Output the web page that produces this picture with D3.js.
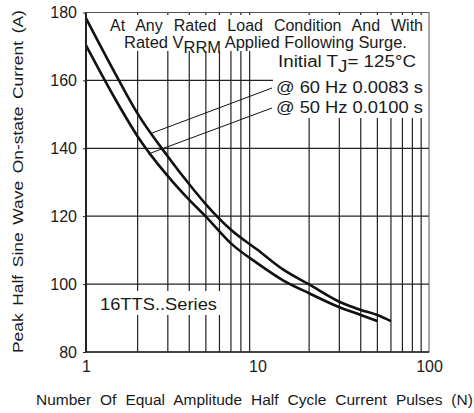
<!DOCTYPE html>
<html>
<head>
<meta charset="utf-8">
<script src="https://cdn.jsdelivr.net/npm/d3@7"></script>
<style>
  html, body { margin: 0; padding: 0; background: #fff; }
  svg { display: block; font-family: "Liberation Sans", Arial, sans-serif; }
</style>
</head>
<body>
<svg id="chart" width="474" height="413"></svg>
<script>
// Maximum non-repetitive surge current vs number of half-cycle pulses (16TTS..Series)
const pulses60 = [1, 1.5, 2, 3, 4, 5, 7, 10, 14, 20, 30, 40, 50, 60];
const surge60  = [178.3, 161.5, 150.2, 137.6, 129.4, 123.5, 116.0, 110.1, 104.4, 99.9, 94.8, 92.4, 90.9, 89.1];
const pulses50 = [1, 1.5, 2, 3, 4, 5, 7, 10, 14, 20, 30, 40, 50];
const surge50  = [170.3, 154.0, 143.5, 131.8, 124.8, 119.9, 112.0, 106.1, 101.2, 97.3, 93.2, 90.9, 89.1];

const xTicks = [1, 10, 100];
const xGrid = [2, 3, 4, 5, 6, 7, 8, 9, 20, 30, 40, 50, 60, 70, 80, 90];
const yTicks = [80, 100, 120, 140, 160, 180];
const yGrid = [100, 120, 140, 160];

const svg = d3.select("#chart");
const plotL = 86, plotR = 429, plotT = 12.5, plotB = 352;

const x = d3.scaleLog().domain([1, 100]).range([plotL, plotR]);
const y = d3.scaleLinear().domain([80, 180]).range([plotB, plotT]);

// grid
const grid = svg.append("g").attr("stroke", "#222").attr("stroke-width", 1.2);
grid.selectAll(".vg").data(xGrid).join("line")
  .attr("x1", d => x(d)).attr("x2", d => x(d))
  .attr("y1", plotT).attr("y2", plotB);
grid.selectAll(".hg").data(yGrid).join("line")
  .attr("x1", plotL).attr("x2", plotR)
  .attr("y1", d => y(d)).attr("y2", d => y(d));

// white panels behind annotation text
const bg = svg.append("g");
const txt = svg.append("g").attr("fill", "#1a1a1a");

function fitWords(sel, width) {
  const n = sel.text().split(" ").length - 1;
  const w = sel.node().getComputedTextLength();
  if (n > 0) sel.attr("word-spacing", (width - w) / n);
}
function stretch(sel, x0, width) {
  const w = sel.node().getBBox().width;
  sel.attr("transform", `translate(${x0},0) scale(${width / w},1) translate(${-x0},0)`);
}

const l1 = txt.append("text").attr("x", 110).attr("y", 31).attr("font-size", 16)
  .text("At Any Rated Load Condition And With");
fitWords(l1, 313);

const l2 = txt.append("text").attr("x", 124).attr("y", 48).attr("font-size", 16);
l2.append("tspan").text("Rated V");
l2.append("tspan").attr("dy", 5).text("RRM");
l2.append("tspan").attr("dy", -5).text(" Applied Following Surge.");
stretch(l2, 124, 283);

const l3 = txt.append("text").attr("x", 278).attr("y", 67).attr("font-size", 16);
l3.append("tspan").text("Initial T");
l3.append("tspan").attr("dy", 5).text("J");
l3.append("tspan").attr("dy", -5).text("= 125°C");
stretch(l3, 278, 138);

const l4 = txt.append("text").attr("x", 276).attr("y", 93).attr("font-size", 16)
  .text("@ 60 Hz 0.0083 s");
stretch(l4, 276, 147);
const l5 = txt.append("text").attr("x", 276).attr("y", 113).attr("font-size", 16)
  .text("@ 50 Hz 0.0100 s");
stretch(l5, 276, 147);

const series = txt.append("text").attr("x", 100).attr("y", 310).attr("font-size", 16)
  .text("16TTS..Series");
stretch(series, 100, 117);

bg.append("rect").attr("x", 104).attr("y", 15).attr("width", plotR - 104).attr("height", 36).attr("fill", "#fff");
bg.append("rect").attr("x", 273).attr("y", 51).attr("width", plotR - 273).attr("height", 67).attr("fill", "#fff");
bg.append("rect").attr("x", 97).attr("y", 291).attr("width", 123).attr("height", 24).attr("fill", "#fff");

// curves
const line = d3.line().x(d => x(d[0])).y(d => y(d[1])).curve(d3.curveMonotoneX);
const curves = svg.append("g").attr("fill", "none").attr("stroke", "#111")
  .attr("stroke-width", 2.6).attr("stroke-linejoin", "round");
curves.append("path").attr("d", line(d3.zip(pulses60, surge60)));
curves.append("path").attr("d", line(d3.zip(pulses50, surge50)));

// leader lines from labels to curves
const leaders = svg.append("g").attr("stroke", "#111").attr("stroke-width", 1);
leaders.append("line").attr("x1", 272).attr("y1", 88).attr("x2", x(2.43)).attr("y2", y(144.5));
leaders.append("line").attr("x1", 272).attr("y1", 108).attr("x2", x(2.3)).attr("y2", y(138.3));

// frame
svg.append("rect").attr("x", plotL).attr("y", plotT).attr("width", plotR - plotL).attr("height", plotB - plotT)
  .attr("fill", "none").attr("stroke", "#555").attr("stroke-width", 1);
svg.append("line").attr("x1", plotL).attr("x2", plotL).attr("y1", plotT).attr("y2", plotB)
  .attr("stroke", "#222").attr("stroke-width", 2);
svg.append("line").attr("x1", plotL).attr("x2", plotR).attr("y1", plotB).attr("y2", plotB)
  .attr("stroke", "#222").attr("stroke-width", 1.5);

// axes
const yAxis = svg.append("g").attr("transform", `translate(${plotL},0)`)
  .call(d3.axisLeft(y).tickValues(yTicks).tickSize(3).tickPadding(6).tickFormat(d3.format("d")));
yAxis.select(".domain").remove();
yAxis.selectAll("line").attr("stroke", "#222");
yAxis.selectAll("text").attr("font-size", 16).attr("fill", "#1a1a1a").attr("font-family", "Liberation Sans, Arial, sans-serif");

const xAxis = svg.append("g").attr("transform", `translate(0,${plotB})`)
  .call(d3.axisBottom(x).tickValues(xTicks).tickSize(0).tickPadding(9).tickFormat(d3.format("d")));
xAxis.select(".domain").remove();
xAxis.selectAll("text").attr("font-size", 16).attr("fill", "#1a1a1a").attr("font-family", "Liberation Sans, Arial, sans-serif");

// axis titles: wide face with a little extra word spacing
const xt = svg.append("text").attr("x", 36).attr("y", 405).attr("font-size", 15).attr("fill", "#1a1a1a")
  .attr("word-spacing", 4.5)
  .text("Number Of Equal Amplitude Half Cycle Current Pulses (N)");
stretch(xt, 36, 437);

const ytg = svg.append("g").attr("transform", "translate(23,353) rotate(-90)");
const yt = ytg.append("text").attr("x", 0).attr("y", 0).attr("font-size", 15).attr("fill", "#1a1a1a")
  .attr("word-spacing", 2.5)
  .text("Peak Half Sine Wave On-state Current (A)");
stretch(yt, 0, 343);
</script>
</body>
</html>
